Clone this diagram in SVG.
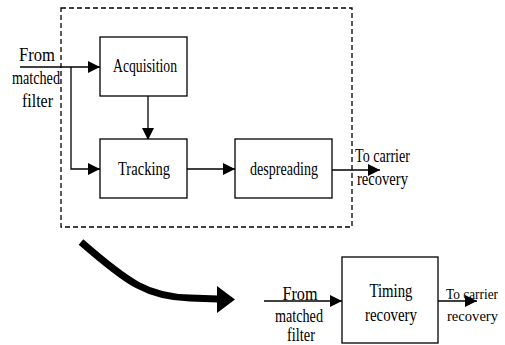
<svg xmlns="http://www.w3.org/2000/svg" width="505" height="345" viewBox="0 0 505 345">
<style>
.box{fill:#fff;stroke:#000;stroke-width:1.3}
.ln{fill:none;stroke:#000;stroke-width:1.3}
.dash{fill:none;stroke:#000;stroke-width:1.3;stroke-dasharray:5 3}
.t{font-family:'Liberation Serif','DejaVu Serif',serif;font-size:18px;fill:#000}
.s{font-size:15px}
.c{text-anchor:middle}
</style>
<defs>
<marker id="ah" viewBox="0 0 12 12" refX="12" refY="6" markerWidth="12" markerHeight="12" markerUnits="userSpaceOnUse" orient="auto">
<path d="M0,0 L12,6 L0,12 Z" fill="#000"/>
</marker>
</defs>
<rect class="dash" x="61" y="8" width="291" height="219"/>
<g id="connectors">
<path class="ln" d="M20,67 L100,67" marker-end="url(#ah)"/>
<path class="ln" d="M71,67 L71,169 L100,169" marker-end="url(#ah)"/>
<path class="ln" d="M148,96 L148,140" marker-end="url(#ah)"/>
<path class="ln" d="M187,169 L235,169" marker-end="url(#ah)"/>
<path class="ln" d="M332,170 L380,170" marker-end="url(#ah)"/>
<path class="ln" d="M264,301 L342,301" marker-end="url(#ah)"/>
<path class="ln" d="M438,301 L477,301" marker-end="url(#ah)"/>
<path d="M81,242 C128,283 148,297 190,298 L218,299" fill="none" stroke="#000" stroke-width="7"/>
<path d="M217,286 L235,299.5 L217,313 Z" fill="#000"/>
</g>
<g id="acquisition">
<rect class="box" x="100" y="37" width="87" height="59"/>
<text class="t c" x="145" y="72" textLength="64" lengthAdjust="spacingAndGlyphs">Acquisition</text>
</g>
<g id="tracking">
<rect class="box" x="100" y="139" width="87" height="59"/>
<text class="t c" x="144" y="175" textLength="52" lengthAdjust="spacingAndGlyphs">Tracking</text>
</g>
<g id="despreading">
<rect class="box" x="235" y="139" width="97" height="59"/>
<text class="t c" x="284" y="175" textLength="68" lengthAdjust="spacingAndGlyphs">despreading</text>
</g>
<g id="timing">
<rect class="box" x="342" y="257" width="96" height="86"/>
<text class="t c" x="391" y="297" textLength="43" lengthAdjust="spacingAndGlyphs">Timing</text>
<text class="t c" x="391" y="321" textLength="52" lengthAdjust="spacingAndGlyphs">recovery</text>
</g>
<g id="labels">
<text class="t c" x="37" y="61" textLength="36" lengthAdjust="spacingAndGlyphs">From</text>
<text class="t c" x="36" y="84" textLength="48" lengthAdjust="spacingAndGlyphs">matched</text>
<text class="t c" x="37.5" y="107" textLength="31" lengthAdjust="spacingAndGlyphs">filter</text>
<text class="t" x="355" y="162" textLength="55" lengthAdjust="spacingAndGlyphs">To carrier</text>
<text class="t" x="357" y="185" textLength="51" lengthAdjust="spacingAndGlyphs">recovery</text>
<text class="t c" x="300" y="300" textLength="35" lengthAdjust="spacingAndGlyphs">From</text>
<text class="t c" x="299" y="322" textLength="48" lengthAdjust="spacingAndGlyphs">matched</text>
<text class="t c" x="301" y="341" textLength="28" lengthAdjust="spacingAndGlyphs">filter</text>
<text class="t s" x="446" y="299" textLength="52" lengthAdjust="spacingAndGlyphs">To carrier</text>
<text class="t s" x="447" y="321" textLength="51" lengthAdjust="spacingAndGlyphs">recovery</text>
</g>
</svg>
